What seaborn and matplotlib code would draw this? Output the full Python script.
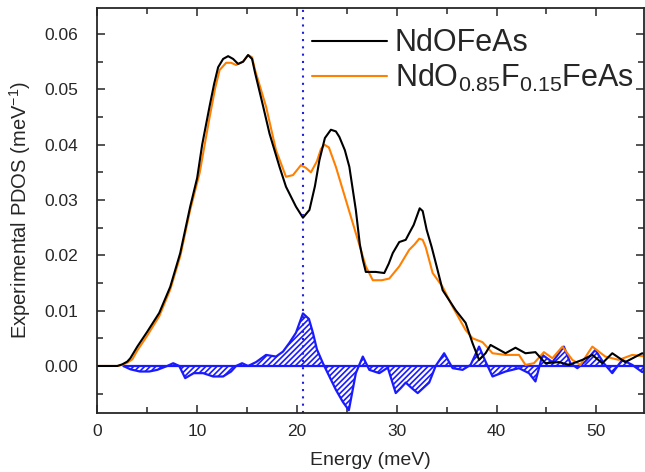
import numpy as np
import matplotlib
matplotlib.use('Agg')
import matplotlib.pyplot as plt
from matplotlib.ticker import MultipleLocator, FormatStrFormatter
import seaborn as sns

# Energia (meV) y PDOS
e_undoped = [0, 1, 2, 2.5, 3, 3.3, 4, 5, 6.2, 7.3, 8.3, 9.3, 10.0, 10.5, 11.25, 11.7, 12.1, 12.6,
             13.1, 13.6, 14.1, 14.6, 15.1, 15.5, 15.8, 16.6, 17.25, 18.25, 18.9, 19.9, 20.6,
             21.25, 21.8, 22.25, 22.8, 23.4, 23.9, 24.25, 24.8, 25.25, 25.9, 26.3, 26.6, 26.9,
             27.9, 28.75, 29.2, 29.6, 30.25, 30.9, 31.25, 31.7, 32.0, 32.3, 32.6, 33.0, 33.5,
             34.0, 34.6, 35.9, 36.9, 37.6, 38.25, 38.9, 39.4, 40.9, 41.9, 42.9, 43.9, 44.9,
             46.25, 47.25, 48.6, 49.6, 50.6, 51.6, 52.9, 54.6, 55]
pdos_undoped = [0, 0, 0, 0.0003, 0.0008, 0.0014, 0.0035, 0.0062, 0.0096, 0.0143, 0.0204, 0.0288,
                0.0340, 0.0400, 0.047, 0.051, 0.054, 0.0555, 0.0560, 0.0555, 0.0546, 0.055,
                0.0562, 0.0555, 0.053, 0.047, 0.042, 0.036, 0.0324, 0.0288, 0.0268, 0.0282,
                0.0325, 0.0372, 0.0412, 0.0427, 0.0424, 0.0414, 0.039, 0.036, 0.0282, 0.022,
                0.0192, 0.017, 0.017, 0.0168, 0.0185, 0.0204, 0.0224, 0.0228, 0.024, 0.0255,
                0.027, 0.0285, 0.028, 0.0246, 0.0215, 0.018, 0.0137, 0.0101, 0.0078, 0.0041,
                0.0011, 0.0023, 0.0038, 0.0023, 0.0033, 0.0023, 0.0025, 0.0005, 0.0007, 0.0002,
                0.0011, 0.002, 0.0005, 0.0023, 0.0007, 0.0023, 0.002]

e_doped = [0, 1, 2, 2.5, 3, 3.5, 4, 5, 6.2, 7.3, 8.3, 9.3, 10.25, 10.8, 11.25, 11.8, 12.25, 12.9,
           13.4, 13.9, 14.6, 15.1, 15.5, 15.8, 16.9, 17.9, 18.9, 19.6, 20.4, 20.9, 21.4, 22.0,
           22.4, 22.75, 23.2, 23.9, 24.9, 25.9, 26.9, 27.6, 28.5, 29.25, 30.25, 31.25, 31.8,
           32.25, 32.6, 32.9, 33.6, 34.6, 35.6, 36.9, 37.6, 38.6, 39.6, 40.9, 42.25, 42.9,
           43.75, 44.75, 45.6, 46.6, 47.6, 48.4, 49.6, 50.9, 52.25, 53.6, 55]
pdos_doped = [0, 0, 0, 0.0002, 0.0006, 0.0012, 0.0028, 0.0055, 0.009, 0.0138, 0.0198, 0.0282,
              0.0349, 0.0405, 0.045, 0.0502, 0.0535, 0.0548, 0.0548, 0.0544, 0.055, 0.0562,
              0.0558, 0.0535, 0.0469, 0.039, 0.0342, 0.0345, 0.0363, 0.0358, 0.035, 0.037,
              0.0392, 0.040, 0.0395, 0.036, 0.030, 0.024, 0.018, 0.0155, 0.0155, 0.0158, 0.018,
              0.021, 0.022, 0.023, 0.0228, 0.0215, 0.0168, 0.0143, 0.0107, 0.0065, 0.005,
              0.0043, 0.0023, 0.002, 0.002, 0.0002, 0.0005, 0.0025, 0.0014, 0.0035, 0.0011,
              0.0002, 0.0035, 0.0017, 0.0011, 0.002, 0.0017]

# Diferencia (dopado - sin dopar)
e_diff = [2.6, 3.3, 4.25, 5.2, 6, 7, 7.6, 8.2, 8.8, 9.65, 10.6, 11.6, 12.6, 13.4, 13.9, 14.5,
          15.1, 15.9, 16.9, 17.9, 18.6, 19.25, 19.9, 20.6, 21.2, 21.6, 22.0, 22.6, 23.9, 24.6,
          25.2, 25.9, 26.2, 26.6, 27.25, 28.25, 29.1, 29.9, 30.4, 30.9, 31.5, 32.1, 33.25, 33.9,
          34.75, 35.6, 36.6, 37.4, 38.25, 38.9, 39.6, 40.9, 42.25, 43.25, 43.9, 44.6, 45.6,
          46.75, 47.4, 48.1, 48.9, 49.9, 50.75, 51.6, 52.6, 53.6, 54.6, 55]
pdos_diff = [0, -0.0006, -0.001, -0.001, -0.0007, 0, 0.0005, 0, -0.0022, -0.0013, -0.0013,
             -0.0019, -0.0019, -0.001, 0, 0.0005, 0, 0.0007, 0.002, 0.0017, 0.0026, 0.0042,
             0.006, 0.0095, 0.0085, 0.006, 0.003, 0.0005, -0.0043, -0.0065, -0.008, -0.0013, 0,
             0.0017, -0.0007, -0.0013, -0.0003, -0.0049, -0.004, -0.003, -0.004, -0.0049,
             -0.003, 0, 0.0023, -0.0004, -0.0007, 0.0002, 0.0035, 0.0008, -0.0019, -0.001,
             -0.0004, -0.0013, -0.0028, 0.002, 0.0007, 0.0035, 0.0005, -0.0004, 0.0008, 0.0029,
             0.0005, -0.0013, 0.0011, 0.0002, -0.0011, -0.0005]

e_marker = 20.6
labels = ['NdOFeAs', r'NdO$_{0.85}$F$_{0.15}$FeAs']

sns.set_style('ticks')
plt.rcParams['font.family'] = ['Liberation Sans', 'DejaVu Sans']
plt.rcParams['mathtext.default'] = 'regular'
plt.rcParams['hatch.linewidth'] = 1.2
plt.rcParams['hatch.color'] = '#1a1aff'

fig, ax = plt.subplots(figsize=(6.45, 4.72), dpi=100)
fig.subplots_adjust(left=0.151, right=0.998, bottom=0.125, top=0.983)

ax.fill_between(np.array(e_diff), np.array(pdos_diff), 0, facecolor='none',
                edgecolor='#1a1aff', hatch='//////', linewidth=0)
ax.hlines(0, e_diff[0], e_diff[-1], color='#1a1aff', lw=1.6)
sns.lineplot(x=e_diff, y=pdos_diff, ax=ax, color='#1a1aff', lw=1.6, sort=False)

sns.lineplot(x=e_doped, y=pdos_doped, ax=ax, color='#ff8000', lw=1.5, label=labels[1], sort=False)
sns.lineplot(x=e_undoped, y=pdos_undoped, ax=ax, color='black', lw=1.5, label=labels[0], sort=False)

ax.axvline(e_marker, color='#2020e0', ls=(0, (1, 2.5)), lw=1.5)

ax.set_xlim(0, 54.75)
ax.set_ylim(-0.0085, 0.0647)
ax.xaxis.set_major_locator(MultipleLocator(10))
ax.xaxis.set_minor_locator(MultipleLocator(5))
ax.yaxis.set_major_locator(MultipleLocator(0.01))
ax.yaxis.set_minor_locator(MultipleLocator(0.005))
ax.yaxis.set_major_formatter(FormatStrFormatter('%.2f'))
ax.tick_params(which='both', direction='in', top=True, right=True, width=1.1, labelsize=12.5)
ax.tick_params(which='major', length=6)
ax.tick_params(which='minor', length=4)
ax.tick_params(axis='y', which='major', pad=14)
ax.tick_params(axis='x', which='major', pad=8)
for s in ax.spines.values():
    s.set_linewidth(1.3)

ax.set_xlabel('Energy (meV)', fontsize=14, labelpad=9)
ax.set_ylabel(r'Experimental PDOS (meV$^{-1}$)', fontsize=14.5, labelpad=8)

h, l = ax.get_legend_handles_labels()
order = [l.index(labels[0]), l.index(labels[1])]
ax.legend([h[i] for i in order], [l[i] for i in order], loc='upper right',
          bbox_to_anchor=(1.015, 0.995), frameon=False, fontsize=22, handlelength=2.45,
          handletextpad=0.25, labelspacing=0.12, borderaxespad=0.2)

plt.savefig('out.png', dpi=100)
